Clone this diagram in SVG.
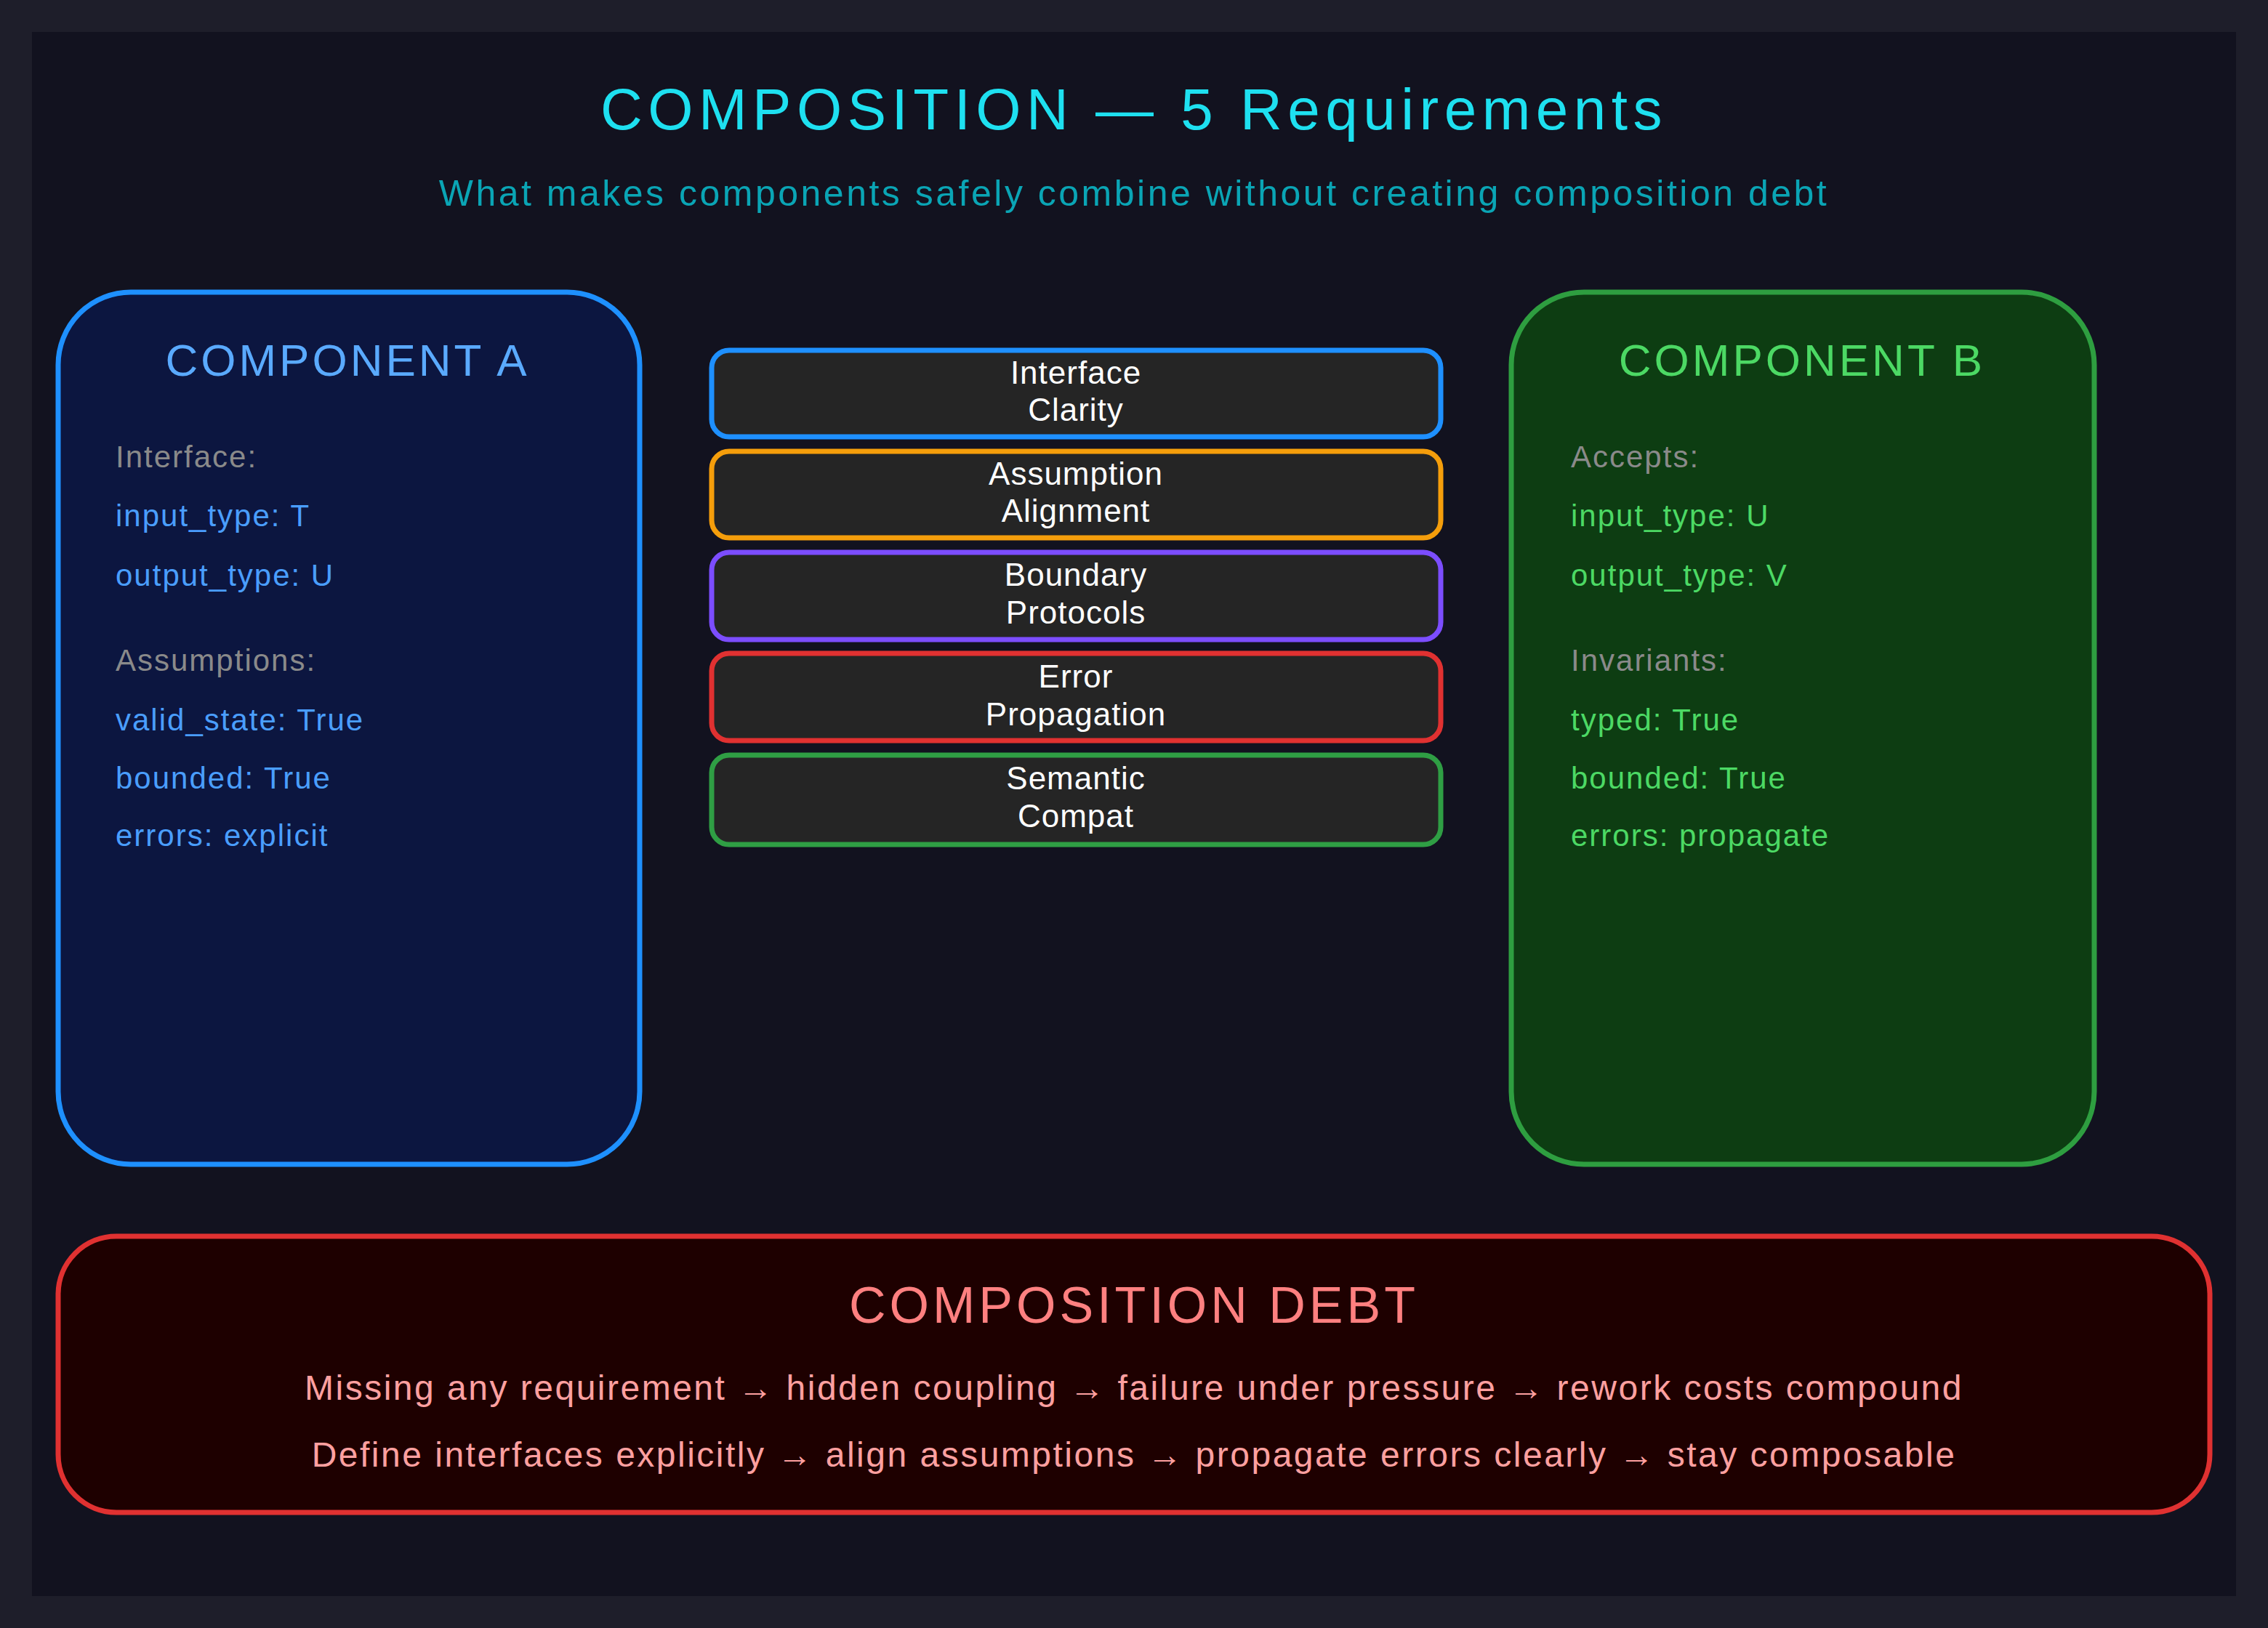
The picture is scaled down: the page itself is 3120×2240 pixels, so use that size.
<svg xmlns="http://www.w3.org/2000/svg" width="3120" height="2240" viewBox="0 0 3120 2240">
<style>
text{font-family:"Liberation Sans","DejaVu Sans",sans-serif}
.lbl{font-size:44px;fill:#ffffff;text-anchor:middle;letter-spacing:1px}
.a{font-size:42px;fill:#4a9eff;letter-spacing:2px}
.b{font-size:42px;fill:#4cd964;letter-spacing:2px}
.h{font-size:42px;fill:#8a8a8a;letter-spacing:2px}
.box{fill:#252525;stroke-width:7}
.d{font-size:48px;fill:#ffa0a0;text-anchor:middle;letter-spacing:2.5px}
</style>
<rect width="3120" height="2240" fill="#1e1e2a"/>
<rect x="44" y="44" width="3032" height="2152" fill="#12121f"/>
<text x="1560" y="178" font-size="80" fill="#1ee0f0" text-anchor="middle" letter-spacing="7.5">COMPOSITION — 5 Requirements</text>
<text x="1560" y="283" font-size="50" fill="#0aa5b5" text-anchor="middle" letter-spacing="3.5">What makes components safely combine without creating composition debt</text>
<g id="componentA">
<rect x="80" y="402" width="800" height="1200" rx="100" fill="#0c1640" stroke="#1e90ff" stroke-width="7"/>
<text x="478" y="517" font-size="62" fill="#5aaaff" text-anchor="middle" letter-spacing="4">COMPONENT A</text>
<text x="159" y="643" class="h">Interface:</text>
<text x="159" y="724" class="a">input_type: T</text>
<text x="159" y="806" class="a">output_type: U</text>
<text x="159" y="923" class="h">Assumptions:</text>
<text x="159" y="1005" class="a">valid_state: True</text>
<text x="159" y="1085" class="a">bounded: True</text>
<text x="159" y="1164" class="a">errors: explicit</text>
</g>
<g id="componentB">
<rect x="2079" y="402" width="802" height="1200" rx="100" fill="#0d3d12" stroke="#2e9e40" stroke-width="7"/>
<text x="2479" y="517" font-size="62" fill="#4cd964" text-anchor="middle" letter-spacing="4">COMPONENT B</text>
<text x="2161" y="643" class="h">Accepts:</text>
<text x="2161" y="724" class="b">input_type: U</text>
<text x="2161" y="806" class="b">output_type: V</text>
<text x="2161" y="923" class="h">Invariants:</text>
<text x="2161" y="1005" class="b">typed: True</text>
<text x="2161" y="1085" class="b">bounded: True</text>
<text x="2161" y="1164" class="b">errors: propagate</text>
</g>
<g id="req1"><rect x="979" y="482" width="1003" height="119" rx="24" class="box" stroke="#1e90ff"/><text x="1480" y="528" class="lbl">Interface</text><text x="1480" y="579" class="lbl">Clarity</text></g>
<g id="req2"><rect x="979" y="621" width="1003" height="119" rx="24" class="box" stroke="#f59e0b"/><text x="1480" y="667" class="lbl">Assumption</text><text x="1480" y="718" class="lbl">Alignment</text></g>
<g id="req3"><rect x="979" y="760" width="1003" height="120" rx="24" class="box" stroke="#7c4dff"/><text x="1480" y="806" class="lbl">Boundary</text><text x="1480" y="858" class="lbl">Protocols</text></g>
<g id="req4"><rect x="979" y="899" width="1003" height="120" rx="24" class="box" stroke="#e03131"/><text x="1480" y="946" class="lbl">Error</text><text x="1480" y="998" class="lbl">Propagation</text></g>
<g id="req5"><rect x="979" y="1039" width="1003" height="123" rx="24" class="box" stroke="#2f9e44"/><text x="1480" y="1086" class="lbl">Semantic</text><text x="1480" y="1138" class="lbl">Compat</text></g>
<g id="debt">
<rect x="80" y="1701" width="2960" height="380" rx="80" fill="#1e0000" stroke="#e03131" stroke-width="7"/>
<text x="1560" y="1820" font-size="70" fill="#ff8080" text-anchor="middle" letter-spacing="5">COMPOSITION DEBT</text>
<text x="1560" y="1926" class="d">Missing any requirement → hidden coupling → failure under pressure → rework costs compound</text>
<text x="1560" y="2018" class="d">Define interfaces explicitly → align assumptions → propagate errors clearly → stay composable</text>
</g>
<g id="connectors"/>
</svg>
